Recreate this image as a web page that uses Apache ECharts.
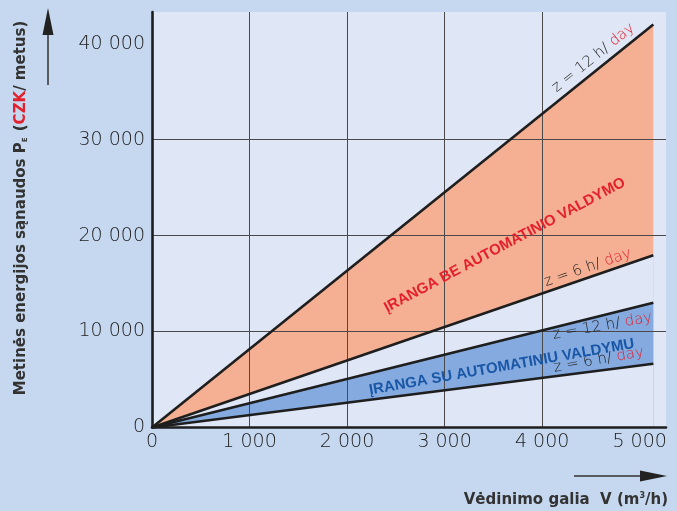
<!DOCTYPE html>
<html><head><meta charset="utf-8">
<script src="https://cdn.jsdelivr.net/npm/echarts@6/dist/echarts.min.js"></script>
<style>html,body{margin:0;padding:0;background:#c6d8f0}#c{width:677px;height:511px}</style>
</head><body><div id="c"></div>
<script>
// ---- data ----
const flowX = [0, 5140];                 // m3/h
const noCtrl12h = [0, 42000];            // CZK / metus
const noCtrl6h  = [0, 17950];
const ctrl12h   = [0, 13000];
const ctrl6h    = [0, 6650];
const xTicks = [0, 1000, 2000, 3000, 4000, 5000];
const yTicks = [0, 10000, 20000, 30000, 40000];

const pair = (xs, ys) => xs.map((x, i) => [x, ys[i]]);
const fmt = v => String(v).replace(/\B(?=(\d{3})+(?!\d))/g, ' ');
const NUMF = 'DejaVu Sans';
const TITF = 'DejaVu Sans';
const PLOT_BG = '#dfe6f5';

const chart = echarts.init(document.getElementById('c'), null, {renderer: 'canvas'});
const lineS = (name, ys) => ({
  name, type: 'line', data: pair(flowX, ys), symbol: 'none', z: 10,
  lineStyle: {color: '#1e1e1e', width: 2.6}, silent: true
});
// nested filled areas: each later one covers the part below its line
const areaS = (ys, color, z) => ({
  type: 'line', data: pair(flowX, ys), symbol: 'none', z, silent: true,
  lineStyle: {width: 0}, areaStyle: {color, opacity: 1, origin: 'start'}
});

chart.setOption({
  animation: false,
  backgroundColor: '#c6d8f0',
  grid: {left: 152, right: 11, top: 12, bottom: 83.5, show: true, backgroundColor: PLOT_BG, borderWidth: 0},
  xAxis: {
    type: 'value', min: 0, max: 5270, interval: 1000, z: 5,
    axisLine: {show: true, lineStyle: {color: '#1e1e1e', width: 2.6}},
    axisTick: {show: false, customValues: xTicks},
    splitLine: {show: true, showMinLine: false, showMaxLine: false, lineStyle: {color: '#4a4a4a', width: 1}},
    axisLabel: {margin: 5, fontFamily: NUMF, fontWeight: 200, fontSize: 19, color: '#222',
      customValues: xTicks, formatter: v => fmt(v)}
  },
  yAxis: {
    type: 'value', min: 0, max: 43300, interval: 10000, z: 5,
    axisLine: {show: true, lineStyle: {color: '#1e1e1e', width: 2.6}},
    axisTick: {show: false, customValues: yTicks},
    splitLine: {show: true, showMinLine: false, showMaxLine: false, lineStyle: {color: '#4a4a4a', width: 1}},
    axisLabel: {margin: 7, fontFamily: NUMF, fontWeight: 200, fontSize: 19, color: '#222',
      customValues: yTicks, formatter: v => fmt(v)}
  },
  series: [
    areaS(noCtrl12h, '#f5b094', 1),
    areaS(noCtrl6h, PLOT_BG, 2),
    areaS(ctrl12h, '#84aadf', 3),
    areaS(ctrl6h, PLOT_BG, 4),
    lineS('noCtrl12h', noCtrl12h),
    lineS('noCtrl6h', noCtrl6h),
    lineS('ctrl12h', ctrl12h),
    lineS('ctrl6h', ctrl6h)
  ]
});

// ---- decorations, positioned from the axes ----
function lineLabel(ys, hours, xAt, gap, rotDeg) {
  const p0 = chart.convertToPixel({gridIndex: 0}, [flowX[0], ys[0]]);
  const p1 = chart.convertToPixel({gridIndex: 0}, [flowX[1], ys[1]]);
  const ang = Math.atan2(p0[1] - p1[1], p1[0] - p0[0]);
  const yAt = ys[0] + (ys[1] - ys[0]) * (xAt - flowX[0]) / (flowX[1] - flowX[0]);
  const p = chart.convertToPixel({gridIndex: 0}, [xAt, yAt]);
  return {
    type: 'text', x: p[0], y: p[1], rotation: rotDeg != null ? rotDeg * Math.PI / 180 : ang, z: 20,
    style: {
      x: 0, y: -gap, text: '{a|z = ' + hours + ' h/ }{r|day}',
      align: 'center', verticalAlign: gap >= 0 ? 'bottom' : 'top',
      rich: {a: {fontFamily: NUMF, fontWeight: 200, fontSize: 15, fill: '#222'},
             r: {fontFamily: NUMF, fontWeight: 200, fontSize: 15, fill: '#e4202c'}}
    }
  };
}
function bandLabel(dx, dy, rotDeg, text, color) {
  const p = chart.convertToPixel({gridIndex: 0}, [dx, dy]);
  return {
    type: 'text', x: p[0], y: p[1], rotation: rotDeg * Math.PI / 180, z: 20,
    style: {text, x: 0, y: 0, align: 'center', verticalAlign: 'middle',
      fontFamily: 'Liberation Sans', fontWeight: 'bold', fontSize: 15, fill: color}
  };
}

chart.setOption({
  graphic: [
    lineLabel(noCtrl12h, 12, 4600, 4),
    lineLabel(noCtrl6h, 6, 4500, 2),
    lineLabel(ctrl12h, 12, 4600, -3, 10),
    lineLabel(ctrl6h, 6, 4600, 3, 10),
    bandLabel(3617, 19000, 28, 'ĮRANGA BE AUTOMATINIO VALDYMO', '#e4202c'),
    bandLabel(3586, 6300, 10, 'ĮRANGA SU AUTOMATINIU VALDYMU', '#1957a6'),
    // y axis title
    {type: 'text', x: 21, y: 208, rotation: Math.PI / 2, z: 20,
      style: {text: '{t|Metinės energijos sąnaudos P}{s|E}{t| (}{c|CZK}{t|/ metus)}',
        align: 'center', verticalAlign: 'middle',
        rich: {
          t: {fontFamily: TITF, fontWeight: 'bold', fontSize: 15, fill: '#333'},
          s: {fontFamily: TITF, fontWeight: 'bold', fontSize: 7, fill: '#333', verticalAlign: 'bottom', padding: [6, 1, 0, 0]},
          c: {fontFamily: TITF, fontWeight: 'bold', fontSize: 15, fill: '#e4202c'}
        }}},
    // x axis title
    {type: 'text', x: 668, y: 500, z: 20,
      style: {text: '{t|Vėdinimo galia  V (m}{s|3}{t|/h)}', align: 'right', verticalAlign: 'middle',
        rich: {
          t: {fontFamily: TITF, fontWeight: 'bold', fontSize: 15, fill: '#333'},
          s: {fontFamily: TITF, fontWeight: 'bold', fontSize: 8, fill: '#333', verticalAlign: 'top', padding: [0, 0, 8, 0]}
        }}},
    // arrows
    {type: 'line', z: 20, shape: {x1: 48, y1: 85, x2: 48, y2: 30}, style: {stroke: '#333', lineWidth: 1.5}},
    {type: 'polygon', z: 20, shape: {points: [[48, 8], [42.5, 35], [53.5, 35]]}, style: {fill: '#222'}},
    {type: 'line', z: 20, shape: {x1: 574, y1: 476, x2: 645, y2: 476}, style: {stroke: '#333', lineWidth: 1.5}},
    {type: 'polygon', z: 20, shape: {points: [[667, 476], [640, 470.5], [640, 481.5]]}, style: {fill: '#222'}}
  ]
});
</script></body></html>
